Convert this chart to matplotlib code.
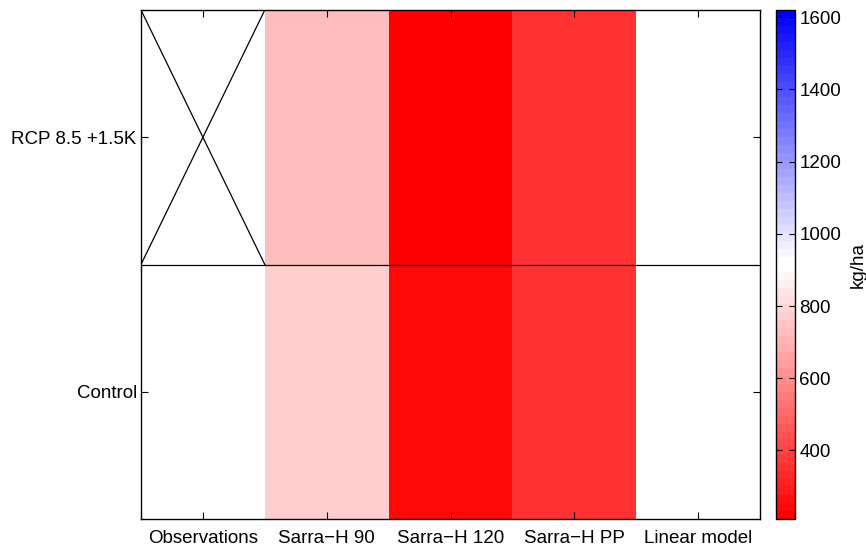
import numpy as np
import matplotlib
matplotlib.use("Agg")
import matplotlib.pyplot as plt
from matplotlib.colors import ListedColormap, Normalize

plt.rcParams['font.family'] = ['Liberation Sans', 'DejaVu Sans']

models = ["Observations", "Sarra\u2212H 90", "Sarra\u2212H 120", "Sarra\u2212H PP", "Linear model"]
scenarios = ["Control", "RCP 8.5 +1.5K"]
control = [915, 772, 243, 353, 912]
rcp = [np.nan, 728, 215, 353, 915]
cbar_ticks = [400, 600, 800, 1000, 1200, 1400, 1600]
vmin, vmax = 210, 1620

data = np.array([control, rcp], dtype=float)

# 64-entry red-white-blue map with two white entries in the middle
t = np.linspace(0, 1, 32)
red_half = np.column_stack([np.ones(32), t, t])
blue_half = np.column_stack([1 - t, 1 - t, np.ones(32)])
cmap = ListedColormap(np.vstack([red_half, blue_half]))
cmap.set_bad((1, 1, 1))
norm = Normalize(vmin=vmin, vmax=vmax)

fs = 13.5
fig = plt.figure(figsize=(8.66, 5.5), dpi=100)
ax = fig.add_axes([141/866, 1-519/550, 619/866, 509/550])
cax = fig.add_axes([776/866, 1-519/550, 19/866, 509/550])

mesh = ax.pcolormesh(np.arange(len(models)+1), np.arange(len(scenarios)+1),
                     np.ma.masked_invalid(data), cmap=cmap, norm=norm)
ax.set_xlim(0, len(models))
ax.set_ylim(0, len(scenarios))

# row separator
ax.axhline(1, color='black', lw=0.9)

# cross for missing cells
for r in range(data.shape[0]):
    for c in range(data.shape[1]):
        if np.isnan(data[r, c]):
            ax.plot([c, c+1], [r, r+1], color='black', lw=0.9)
            ax.plot([c, c+1], [r+1, r], color='black', lw=0.9)

ax.set_xticks(np.arange(len(models)) + 0.5)
ax.set_xticklabels(models, fontsize=fs)
ax.set_yticks(np.arange(len(scenarios)) + 0.5)
ax.set_yticklabels(scenarios, fontsize=fs)
ax.tick_params(direction='in', length=5, width=0.8, top=True, right=True)
ax.tick_params(axis='x', pad=8)
ax.tick_params(axis='y', pad=3)
for s in ax.spines.values():
    s.set_linewidth(1.0)

cb = fig.colorbar(mesh, cax=cax)
cb.set_ticks(cbar_ticks)
cb.ax.tick_params(direction='in', length=4, width=0.8, left=True, right=True, labelsize=fs, pad=3)
cb.outline.set_linewidth(1.0)
cb.set_label("kg/ha", fontsize=fs, labelpad=6)

fig.savefig("out.png", dpi=100)
